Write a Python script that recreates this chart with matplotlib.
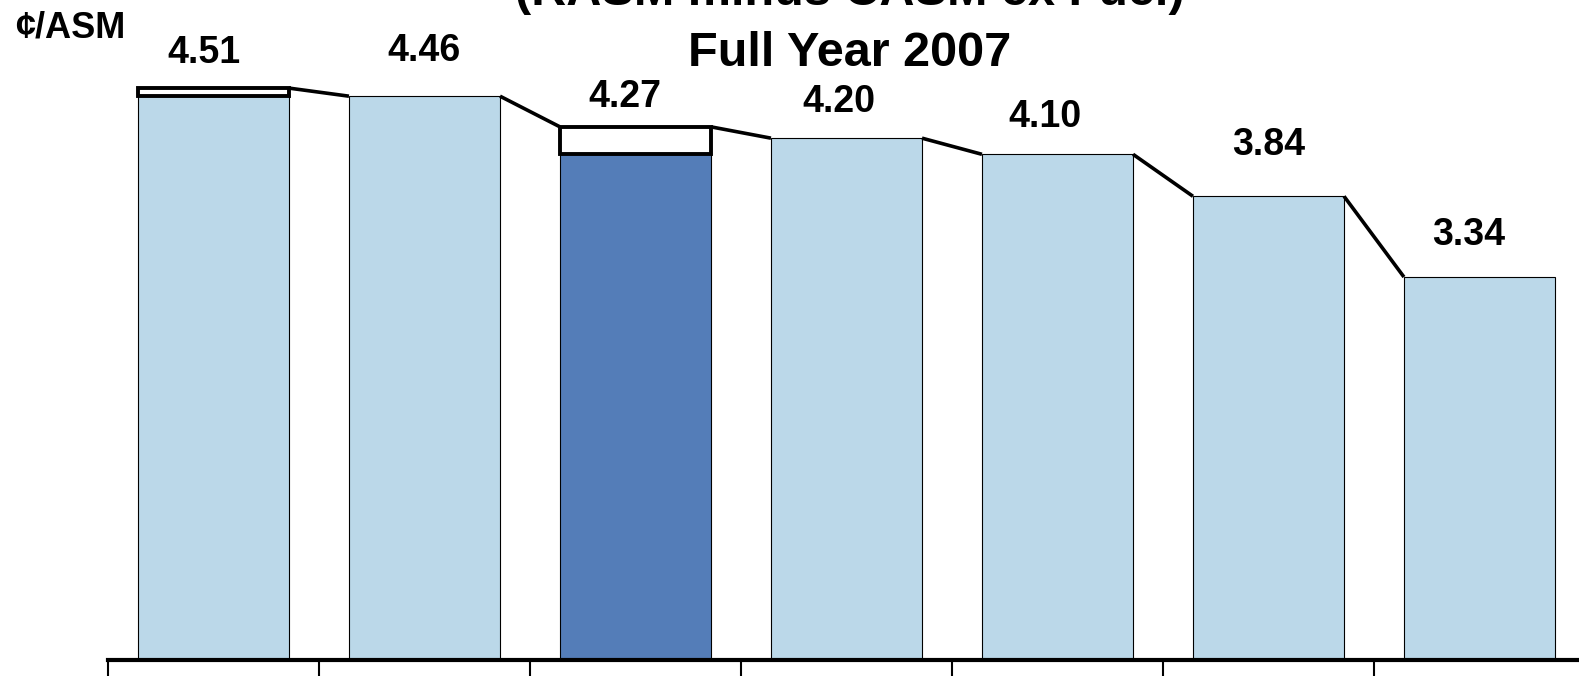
import numpy as np
import matplotlib
matplotlib.use("Agg")
import matplotlib.pyplot as plt

plt.rcParams['font.family'] = ['Liberation Sans', 'DejaVu Sans']

# Values (cents per ASM)
totals = [4.51, 4.46, 4.27, 4.20, 4.10, 3.84, 3.34]
# lower filled part; the rest up to the total is the white outlined box
filled = [4.46, 4.46, 4.10, 4.20, 4.10, 3.84, 3.34]
highlight = 2

light_blue = '#BBD8E9'
dark_blue = '#547DB8'

# label nudges in pixels (dx, dy above the bar top)
label_dx = [-10, 0, -11, -8, -13, 0, -11]
label_dy = [35, 45, 30, 36, 37, 51, 42]

W, H = 1579, 676
fig = plt.figure(figsize=(W / 100, H / 100), dpi=100)
ax = fig.add_axes([108 / W, 16 / H, 1477 / W, 651 / H])

x = np.arange(len(totals))
width = 0.716
colors = [dark_blue if i == highlight else light_blue for i in x]

ax.bar(x, filled, width=width, color=colors, edgecolor='black', linewidth=0.8, zorder=2)

extra = np.array(totals) - np.array(filled)
for i in x:
    if extra[i] > 0:
        ax.bar(x[i], extra[i], bottom=filled[i], width=width, color='white',
               edgecolor='black', linewidth=2.8, zorder=3)

# connectors between bar tops
for i in range(len(totals) - 1):
    ax.plot([x[i] + width / 2, x[i + 1] - width / 2], [totals[i], totals[i + 1]],
            color='black', linewidth=2.6, solid_capstyle='butt', zorder=4)

for i in x:
    ax.annotate(f'{totals[i]:.2f}', xy=(x[i], totals[i]), xytext=(label_dx[i], label_dy[i]),
                textcoords='offset pixels', ha='center', va='center',
                fontsize=27, fontweight='bold')

ax.set_xlim(-0.5, 6.5)
ax.set_ylim(0.968, 5.0)
ax.set_xticks(np.arange(-0.5, 7, 1))
ax.set_xticklabels([])
ax.tick_params(axis='x', direction='out', length=16, width=1.5)
ax.set_yticks([])
for s in ['left', 'top', 'right']:
    ax.spines[s].set_visible(False)
ax.spines['bottom'].set_linewidth(3)
ax.patch.set_alpha(0)

# title sits partly above the top edge, as in the source slide
fig.text(850 / W, 1 - 5 / H, '(RASM minus CASM ex Fuel)', ha='center', va='baseline',
         fontsize=35, fontweight='bold')
fig.text(850 / W, 1 - 66 / H, 'Full Year 2007', ha='center', va='baseline',
         fontsize=35, fontweight='bold')
fig.text(15 / W, 1 - 38 / H, '¢/ASM', ha='left', va='baseline',
         fontsize=26, fontweight='bold')

plt.savefig('out.png', dpi=100)
